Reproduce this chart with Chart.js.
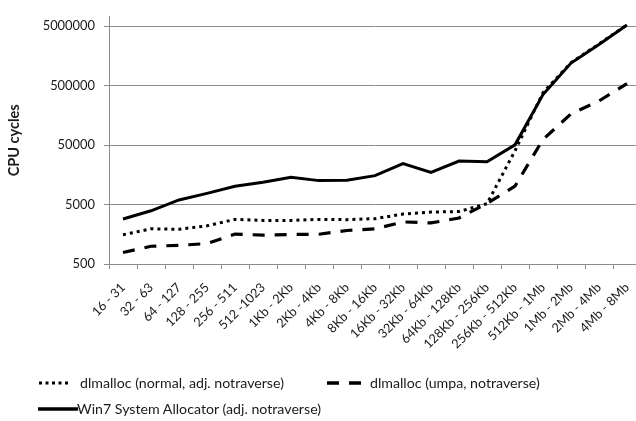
<!DOCTYPE html>
<html>
<head>
<meta charset="utf-8">
<script src="https://cdn.jsdelivr.net/npm/chart.js@4"></script>
<style>
  html, body { margin: 0; padding: 0; background: #fff; overflow: hidden; }
  #frame { position: relative; width: 636px; height: 421px; overflow: hidden; background: #fff; }
  #wrap { position: absolute; left: 0; top: 0; width: 660px; height: 421px; }
  .leg { position: absolute; font-family: Lato, "Open Sans", sans-serif; font-size: 14.2px; color: #1a1a1a; white-space: nowrap; line-height: 16px; }
  .leg svg { position: absolute; top: 0; }
</style>
</head>
<body>
<div id="frame">
  <div id="wrap"><canvas id="c"></canvas></div>
  <div class="leg" style="left:38px; top:375px; width:270px; height:16px;">
    <svg width="34" height="16" style="left:0"><line x1="1" y1="8" x2="33" y2="8" stroke="#000" stroke-width="3" stroke-dasharray="3 3.5"/></svg>
    <span style="position:absolute; left:42px; top:0;" id="l0"></span>
  </div>
  <div class="leg" style="left:327px; top:375px; width:250px; height:16px;">
    <svg width="34" height="16" style="left:0"><line x1="0" y1="8" x2="34" y2="8" stroke="#000" stroke-width="3.5" stroke-dasharray="12 10"/></svg>
    <span style="position:absolute; left:43px; top:0;" id="l1"></span>
  </div>
  <div class="leg" style="left:38px; top:401px; width:300px; height:16px;">
    <svg width="40" height="16" style="left:0"><line x1="0" y1="8" x2="40" y2="8" stroke="#000" stroke-width="3.5"/></svg>
    <span style="position:absolute; left:39px; top:0;" id="l2"></span>
  </div>
</div>
<script>
const categories = ['16 - 31','32 - 63','64 - 127','128 - 255','256 - 511','512 -1023','1Kb - 2Kb','2Kb - 4Kb','4Kb - 8Kb','8Kb - 16Kb','16Kb - 32Kb','32Kb - 64Kb','64Kb - 128Kb','128Kb - 256Kb','256Kb - 512Kb','512Kb - 1Mb','1Mb - 2Mb','2Mb - 4Mb','4Mb - 8Mb'];
const seriesNames = ['dlmalloc (normal, adj. notraverse)', 'dlmalloc (umpa, notraverse)', 'Win7 System Allocator (adj. notraverse)'];
const dlNormal = [1550,1950,1920,2190,2810,2700,2700,2810,2780,2890,3450,3730,3810,5170,40000,380000,1210000,2500000,5250000];
const dlUmpa   = [782,993,1032,1100,1590,1530,1570,1580,1830,1950,2550,2450,2970,5210,10200,62000,167000,275000,536000];
const win7     = [2856,3920,5960,7690,10160,11830,14320,12600,12770,15270,24430,17340,26870,26060,50350,352000,1190000,2450000,5200000];
const yTicks   = [500,5000,50000,500000,5000000];
const yTitle   = 'CPU cycles';

document.getElementById('l0').textContent = seriesNames[0];
document.getElementById('l1').textContent = seriesNames[1];
document.getElementById('l2').textContent = seriesNames[2];

Chart.defaults.font.family = 'Lato, "Open Sans", sans-serif';
Chart.defaults.color = '#1a1a1a';
const gridColor = '#8c8c8c';

new Chart(document.getElementById('c'), {
  type: 'line',
  data: {
    labels: categories,
    datasets: [
      { label: seriesNames[0], data: dlNormal, borderColor: '#000', borderWidth: 3, borderDash: [3, 4], borderCapStyle: 'butt', pointRadius: 0, tension: 0, fill: false },
      { label: seriesNames[1], data: dlUmpa, borderColor: '#000', borderWidth: 3.2, borderDash: [12, 10], borderCapStyle: 'butt', pointRadius: 0, tension: 0, fill: false },
      { label: seriesNames[2], data: win7, borderColor: '#000', borderWidth: 3, pointRadius: 0, tension: 0, fill: false }
    ]
  },
  options: {
    responsive: true,
    maintainAspectRatio: false,
    animation: false,
    layout: { padding: { top: 13, right: 19, bottom: 0, left: 0 } },
    plugins: { legend: { display: false }, tooltip: { enabled: false } },
    scales: {
      x: {
        type: 'category',
        offset: true,
        grid: { display: true, drawOnChartArea: false, offset: true, tickLength: 5, color: gridColor },
        border: { display: true, color: gridColor },
        ticks: { autoSkip: false, maxRotation: 45, minRotation: 45, padding: 11, font: { size: 12.7 } },
        afterFit: s => { s.height = 157; }
      },
      y: {
        type: 'logarithmic',
        min: 500,
        max: 7160000,
        afterBuildTicks: s => { s.ticks = yTicks.map(v => ({ value: v })); },
        ticks: { callback: v => String(v), padding: 9, font: { size: 12.9 } },
        grid: { color: gridColor, tickLength: 5, drawTicks: true },
        border: { display: true, color: gridColor },
        title: { display: true, text: yTitle, font: { size: 14.5, weight: 'bold' }, padding: { top: 6, bottom: 4 } },
        afterFit: s => { s.width = 109; }
      }
    }
  }
});
</script>
</body>
</html>
